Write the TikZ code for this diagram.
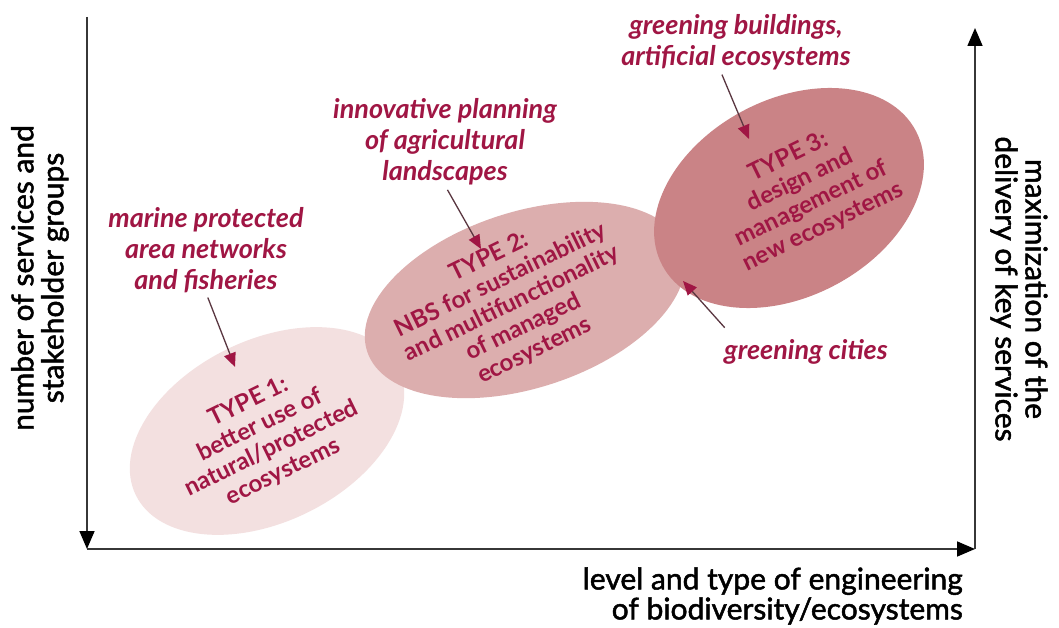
\documentclass[tikz,border=0pt]{standalone}
\usepackage{fontspec}
\setmainfont{Lato}
\newfontfamily\axisfont[FakeBold=1.6]{Lato}
\usetikzlibrary{shapes.geometric,arrows.meta}

\definecolor{crimson}{RGB}{160,22,68}
\definecolor{pinkA}{RGB}{243,224,224}
\definecolor{pinkB}{RGB}{220,174,174}
\definecolor{pinkC}{RGB}{202,131,134}
\definecolor{axisgrey}{RGB}{55,55,55}
\definecolor{stemgrey}{RGB}{90,55,65}

\begin{document}
\begin{tikzpicture}[x=1pt,y=-1pt,
  axis/.style={draw=axisgrey,line width=1.6pt,-{Triangle[length=18pt,width=15pt,color=black]}},
  blob/.style={ellipse,draw=none,inner sep=0pt},
  typetext/.style={text=crimson,font=\bfseries\fontsize{24}{26}\selectfont,align=center,rotate=26,inner sep=0pt},
  hint/.style={text=crimson,font=\bfseries\itshape\fontsize{27}{31}\selectfont,align=center,inner sep=0pt},
  axlabel/.style={text=black,font=\axisfont\fontsize{30}{30}\selectfont,inner sep=0pt},
  pointer/.style={draw=stemgrey,line width=1.3pt,shorten <=5pt,-{Triangle[length=14pt,width=12pt,color=crimson]}},
]
\useasboundingbox[fill=white] (0,0) rectangle (1059,628);

% axes
\coordinate (ytop) at (87,17);
\coordinate (origin) at (87,549);
\coordinate (xend) at (975,549);
\coordinate (rtop) at (975,28);
\draw[axis] (ytop) -- (origin);
\draw[axis] (origin) -- (xend);
\draw[axis] (xend) -- (rtop);

% axis captions
\node[axlabel,align=center,rotate=90] (ylab) at (40,278) {number of services and\\stakeholder groups};
\node[axlabel,align=center,rotate=-90] (rlab) at (1019,289) {maximization of the\\delivery of key services};
\node[axlabel,align=right,anchor=east] (xlab) at (963,596) {level and type of engineering\\of biodiversity/ecosystems};

% the three types of nature-based solutions
\node[blob,rotate=26,fill=pinkA,minimum width=292pt,minimum height=182pt] (type1) at (267,431) {};
\node[blob,rotate=18,fill=pinkB,minimum width=332pt,minimum height=176pt] (type2) at (525,300) {};
\node[blob,rotate=28,fill=pinkC,minimum width=287pt,minimum height=197pt] (type3) at (789,198) {};

\node[typetext] (t1txt) at (266,437) {TYPE 1:\\better use of\\natural/protected\\ecosystems};
\node[typetext] (t2txt) at (512,304) {TYPE 2:\\NBS for sustainability\\and multifunctionality\\of managed\\ecosystems};
\node[typetext] (t3txt) at (806,192) {TYPE 3:\\design and\\management of\\new ecosystems};

% examples
\node[hint] (marine) at (206,250) {marine protected\\area networks\\and fisheries};
\node[hint] (innov) at (445,142) {innovative planning\\of agricultural\\landscapes};
\node[hint] (gbuild) at (736,42) {greening buildings,\\artificial ecosystems};
\node[hint] (gcity) at (806,352) {greening cities};

\coordinate (tip1) at (235,367);
\coordinate (tip2) at (481,249);
\coordinate (tip3) at (749,139);
\coordinate (tip4) at (683,281);

\draw[pointer] (marine.south) -- (tip1);
\draw[pointer] (innov.south) -- (tip2);
\draw[pointer] ([xshift=-16pt]gbuild.south) -- (tip3);
\draw[pointer] ([xshift=4pt,yshift=8pt]gcity.north west) -- (tip4);
\end{tikzpicture}
\end{document}
